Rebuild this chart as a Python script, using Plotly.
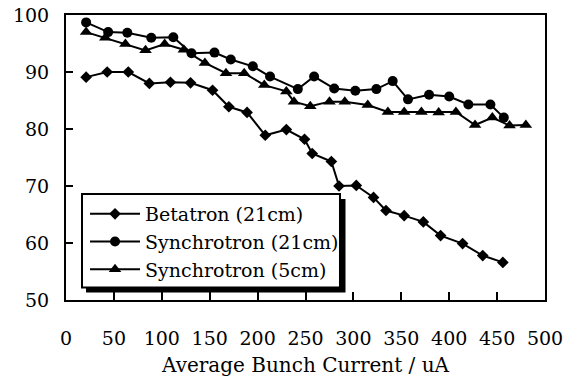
import plotly.graph_objects as go

# Betatron tune measurement, 21 cm bunch length
beta21_current = [21, 43, 65, 87, 109, 130, 153, 170, 189, 208, 230, 249,
                  257, 277, 285, 303, 321, 334, 353, 373, 391, 414, 435, 456]
beta21_value = [89.1, 90.0, 90.0, 88.0, 88.2, 88.1, 86.8, 83.9, 82.9, 78.9, 79.9, 78.2,
                75.7, 74.3, 70.0, 70.1, 68.0, 65.7, 64.8, 63.7, 61.3, 59.9, 57.8, 56.6]

# Synchrotron tune measurement, 21 cm bunch length
sync21_current = [21, 44, 64, 89, 112, 131, 155, 172, 195, 213, 242,
                  259, 280, 302, 324, 341, 357, 379, 400, 420, 443, 457]
sync21_value = [98.7, 97.0, 96.9, 96.0, 96.1, 93.3, 93.4, 92.2, 91.0, 89.2, 87.0,
                89.2, 87.1, 86.7, 87.0, 88.4, 85.2, 86.0, 85.7, 84.3, 84.3, 82.0]

# Synchrotron tune measurement, 5 cm bunch length
sync5_current = [21, 41, 62, 83, 103, 123, 145, 167, 186, 207, 230, 238, 255,
                 275, 291, 315, 336, 353, 371, 389, 407, 427, 445, 463, 480]
sync5_value = [97.0, 96.0, 94.9, 93.8, 94.9, 93.9, 91.6, 89.8, 89.8, 87.7, 86.6, 84.8, 84.0,
               84.8, 84.8, 84.2, 83.0, 83.0, 83.0, 82.9, 83.0, 80.7, 82.0, 80.6, 80.7]

x_ticks = [0, 50, 100, 150, 200, 250, 300, 350, 400, 450, 500]
y_ticks = [50, 60, 70, 80, 90, 100]

FONT = "DejaVu Serif"
INK = "black"

fig = go.Figure()
fig.add_trace(go.Scatter(x=beta21_current, y=beta21_value, name="Betatron (21cm)",
                         mode="lines+markers",
                         line=dict(color=INK, width=2),
                         marker=dict(symbol="diamond", size=9, color=INK)))
fig.add_trace(go.Scatter(x=sync21_current, y=sync21_value, name="Synchrotron (21cm)",
                         mode="lines+markers",
                         line=dict(color=INK, width=2),
                         marker=dict(symbol="circle", size=10, color=INK)))
fig.add_trace(go.Scatter(x=sync5_current, y=sync5_value, name="Synchrotron (5cm)",
                         mode="lines+markers",
                         line=dict(color=INK, width=2),
                         marker=dict(symbol="triangle-up", size=11, color=INK)))

axis_common = dict(showline=True, linecolor=INK, linewidth=2, mirror=True,
                   ticks="inside", tickcolor=INK, tickwidth=2, showgrid=False,
                   zeroline=False, automargin=False,
                   tickfont=dict(family=FONT, size=19, color=INK))

fig.update_xaxes(range=[0, 500], tickvals=x_ticks, ticklen=8, ticklabelstandoff=20,
                 title=dict(text="Average Bunch Current / uA",
                            font=dict(family=FONT, size=20, color=INK), standoff=16),
                 **axis_common)
fig.update_yaxes(range=[50, 100], tickvals=y_ticks, ticklen=7, ticklabelstandoff=11,
                 **axis_common)

# legend frame with a drop shadow (shadow first, then the white box on top)
fig.add_shape(type="rect", xref="paper", yref="paper",
              x0=0.0418, x1=0.5835, y0=0.0263, y1=0.354,
              fillcolor=INK, line=dict(width=0), layer="above")
fig.add_shape(type="rect", xref="paper", yref="paper",
              x0=0.0334, x1=0.572, y0=0.0439, y1=0.372,
              fillcolor="white", line=dict(color=INK, width=2), layer="above")

fig.update_layout(
    template="none",
    width=566, height=377,
    margin=dict(l=66, r=21, t=15, b=77),
    paper_bgcolor="white", plot_bgcolor="white",
    font=dict(family=FONT, color=INK),
    showlegend=True,
    legend=dict(x=0.0397, y=0.3685, xanchor="left", yanchor="top",
                bgcolor="rgba(0,0,0,0)", borderwidth=0,
                itemwidth=50, tracegroupgap=0,
                font=dict(family=FONT, size=19, color=INK)),
)

fig.write_html("out.html")
